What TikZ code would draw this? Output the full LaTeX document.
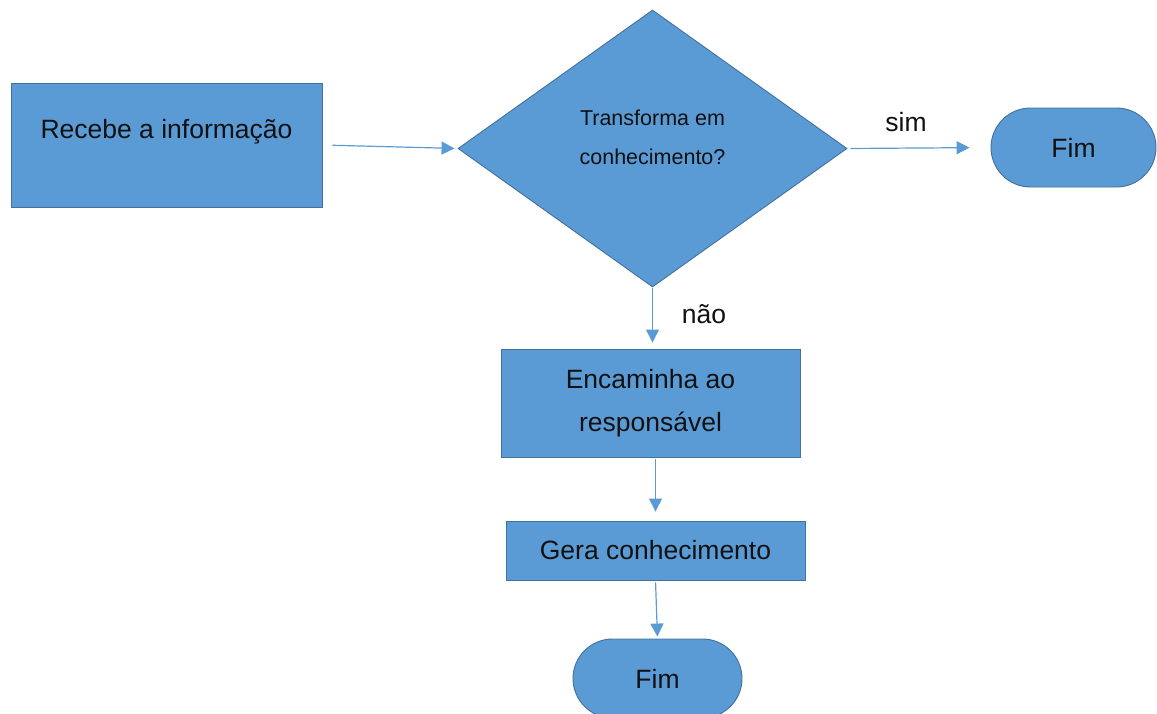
\documentclass[tikz,border=0pt]{standalone}
\usepackage{fontspec}
\setmainfont{Liberation Sans}
\usetikzlibrary{shapes.geometric,shapes.misc,arrows.meta}
\definecolor{fillblue}{HTML}{5B9BD5}
\definecolor{edgeblue}{HTML}{41719C}
\definecolor{txt}{HTML}{111111}
\tikzset{
  shp/.style={fill=fillblue, draw=edgeblue, line width=0.9pt, inner sep=0pt, text=txt},
  box/.style={shp, rectangle},
  term/.style={shp, rounded rectangle},
  dec/.style={shp, diamond},
  big/.style={font=\fontsize{26.5}{43}\selectfont, align=center, text=txt},
  small/.style={font=\fontsize{21.5}{39}\selectfont, align=center, text=txt},
  arr/.style={draw=fillblue, line width=1.2pt, -{Triangle[length=13pt,width=13pt]}},
}
\begin{document}
\begin{tikzpicture}[x=1pt,y=-1pt]
\useasboundingbox (0,0) rectangle (1157,713);
\clip (0,0) rectangle (1157,713);
\node[box, minimum width=311pt, minimum height=124pt,
      label={[big, yshift=13pt]center:Recebe a informação}] (r1) at (166.5,145) {};
\node[dec, minimum width=389pt, minimum height=277pt,
      label={[small, yshift=11pt]center:Transforma em\\conhecimento?}] (d) at (652.5,148.5) {};
\node[term, minimum width=165pt, minimum height=79pt, big] (f1) at (1073.5,147.5) {Fim};
\node[box, minimum width=299pt, minimum height=108pt, big] (r2) at (650.5,403) {Encaminha ao\\responsável};
\node[box, minimum width=299pt, minimum height=59pt, big] (r3) at (655.5,550.5) {Gera conhecimento};
\node[term, minimum width=169pt, minimum height=79pt, big] (f2) at (657.5,678.5) {Fim};

\draw[arr, shorten <=10pt, shorten >=3pt] (r1.east) -- (d.west);
\draw[arr, shorten <=3pt, shorten >=21pt] (d.east) -- (f1.west);
\node[big] (sim) at (906,122) {sim};
\draw[arr, shorten <=1pt, shorten >=6pt] (d.south) -- (d.south |- r2.north);
\node[big] (nao) at (704,314) {não};
\draw[arr, shorten <=2pt, shorten >=9pt] (r3.north |- r2.south) -- (r3.north);
\draw[arr, shorten <=2pt, shorten >=2pt] (r3.south) -- (f2.north);
\end{tikzpicture}
\end{document}
